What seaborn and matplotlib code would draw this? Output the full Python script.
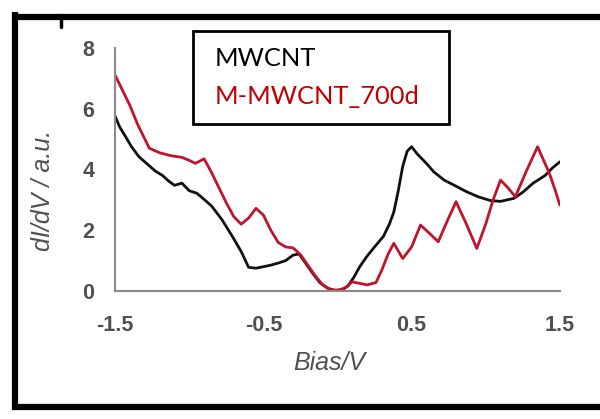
import matplotlib
matplotlib.use("Agg")
import matplotlib.pyplot as plt
from matplotlib.patches import Rectangle
from matplotlib.lines import Line2D
import seaborn as sns
import pandas as pd

# dI/dV spectra versus bias voltage
bias_mwcnt = [-1.5, -1.47, -1.43, -1.39, -1.34, -1.3, -1.23, -1.18, -1.14, -1.1,
              -1.05, -1.0, -0.95, -0.92, -0.85, -0.78, -0.71, -0.65, -0.6, -0.55,
              -0.5, -0.45, -0.4, -0.35, -0.3, -0.26, -0.22, -0.17, -0.12, -0.07,
              -0.02, 0.03, 0.07, 0.11, 0.15, 0.2, 0.25, 0.31, 0.35, 0.38,
              0.41, 0.44, 0.47, 0.5, 0.54, 0.6, 0.65, 0.72, 0.8, 0.87,
              0.95, 1.03, 1.1, 1.19, 1.25, 1.32, 1.4, 1.45, 1.5]
didv_mwcnt = [5.75, 5.4, 5.08, 4.75, 4.42, 4.25, 3.95, 3.8, 3.62, 3.48,
              3.55, 3.3, 3.22, 3.1, 2.8, 2.35, 1.8, 1.3, 0.78, 0.75,
              0.8, 0.85, 0.92, 1.0, 1.18, 1.22, 0.95, 0.6, 0.28, 0.1,
              0.02, 0.04, 0.16, 0.45, 0.8, 1.15, 1.45, 1.8, 2.2, 2.6,
              3.3, 4.1, 4.6, 4.75, 4.5, 4.2, 3.92, 3.65, 3.45, 3.27,
              3.1, 2.98, 2.95, 3.05, 3.25, 3.55, 3.8, 4.05, 4.25]

bias_m700 = [-1.5, -1.45, -1.4, -1.35, -1.3, -1.27, -1.2, -1.12, -1.05, -1.0,
             -0.96, -0.9, -0.85, -0.8, -0.75, -0.7, -0.65, -0.6, -0.55, -0.5,
             -0.45, -0.4, -0.35, -0.3, -0.25, -0.2, -0.15, -0.1, -0.05, 0.0,
             0.05, 0.1, 0.15, 0.2, 0.26, 0.3, 0.34, 0.38, 0.44, 0.5,
             0.56, 0.62, 0.68, 0.74, 0.8, 0.87, 0.94, 1.0, 1.05, 1.1,
             1.15, 1.2, 1.27, 1.35, 1.43, 1.47, 1.5]
didv_m700 = [7.1, 6.6, 6.1, 5.5, 5.0, 4.7, 4.55, 4.45, 4.4, 4.3,
             4.2, 4.35, 3.9, 3.4, 2.9, 2.45, 2.2, 2.4, 2.72, 2.5,
             2.0, 1.6, 1.45, 1.42, 1.2, 0.85, 0.5, 0.2, 0.05, 0.02,
             0.1, 0.3, 0.25, 0.2, 0.28, 0.7, 1.2, 1.57, 1.07, 1.45,
             2.17, 1.9, 1.62, 2.3, 2.94, 2.2, 1.4, 2.2, 3.0, 3.65,
             3.4, 3.1, 3.9, 4.75, 3.87, 3.3, 2.83]

series_names = ["MWCNT", "M-MWCNT_700d"]
x_ticks = [-1.5, -0.5, 0.5, 1.5]
y_ticks = [0, 2, 4, 6, 8]

df = pd.concat([
    pd.DataFrame({"bias": bias_mwcnt, "didv": didv_mwcnt, "sample": series_names[0]}),
    pd.DataFrame({"bias": bias_m700, "didv": didv_m700, "sample": series_names[1]}),
])

sns.set_style("white")
plt.rcParams["font.family"] = ["Liberation Sans", "DejaVu Sans"]

fig = plt.figure(figsize=(6.0, 4.19), dpi=100)
ax = fig.add_axes([0.192, 0.3055, 0.741, 0.58])

palette = {"MWCNT": "#111111", "M-MWCNT_700d": "#c0142c"}
sns.lineplot(data=df, x="bias", y="didv", hue="sample", palette=palette,
             sort=False, estimator=None, linewidth=2.0, legend=False, ax=ax)

ax.set_xlim(-1.5, 1.5)
ax.set_ylim(0, 8)
ax.set_xticks(x_ticks)
ax.set_xticklabels([f"{t:g}" for t in x_ticks])
ax.set_yticks(y_ticks)

grey = "#8a8a8a"
text_grey = "#505050"
for side in ("top", "right"):
    ax.spines[side].set_visible(False)
for side in ("left", "bottom"):
    ax.spines[side].set_color(grey)
    ax.spines[side].set_linewidth(1.5)
ax.tick_params(axis="both", direction="out", length=5, width=1.2, color=grey,
               labelsize=15.5, labelcolor=text_grey)
ax.tick_params(axis="x", pad=12)
ax.tick_params(axis="y", pad=10)
for lab in ax.get_xticklabels() + ax.get_yticklabels():
    lab.set_fontweight("bold")

ax.set_xlabel("")
ax.set_ylabel("")
fig.text(329 / 600, 1 - 363 / 419, "Bias/V", fontsize=18, style="italic",
         color=text_grey, ha="center", va="center")
fig.text(43 / 600, 1 - 190 / 419, "dI/dV / a.u.", fontsize=18, style="italic",
         color=text_grey, ha="center", va="center", rotation=90)

# Legend box in figure coordinates
fig.patches.append(Rectangle((193 / 600, 1 - 124 / 419), 256 / 600, 93 / 419,
                             transform=fig.transFigure, facecolor="white",
                             edgecolor="black", linewidth=2.0, zorder=5))
fig.text(215 / 600, 1 - 59 / 419, series_names[0], fontsize=18.3, color="black",
         family=["Lato", "DejaVu Sans"], va="center", zorder=6)
fig.text(215 / 600, 1 - 96 / 419, series_names[1], fontsize=18.3, color="#c00000",
         family=["Lato", "DejaVu Sans"], va="center", zorder=6)

# Outer panel frame
frame_kw = dict(transform=fig.transFigure, color="black", linewidth=4.5,
                solid_capstyle="butt")
fig.lines.append(Line2D([14.5 / 600, 14.5 / 600], [1 - 12 / 419, 1 - 410 / 419], **frame_kw))
fig.lines.append(Line2D([12 / 600, 1.0], [1 - 17.5 / 419, 1 - 17.5 / 419], **frame_kw))
fig.lines.append(Line2D([12 / 600, 1.0], [1 - 407 / 419, 1 - 407 / 419], **frame_kw))
fig.lines.append(Line2D([61 / 600, 61 / 600], [1 - 15 / 419, 1 - 27 / 419],
                        transform=fig.transFigure, color="black", linewidth=2.5))

fig.savefig("out.png", dpi=100)
